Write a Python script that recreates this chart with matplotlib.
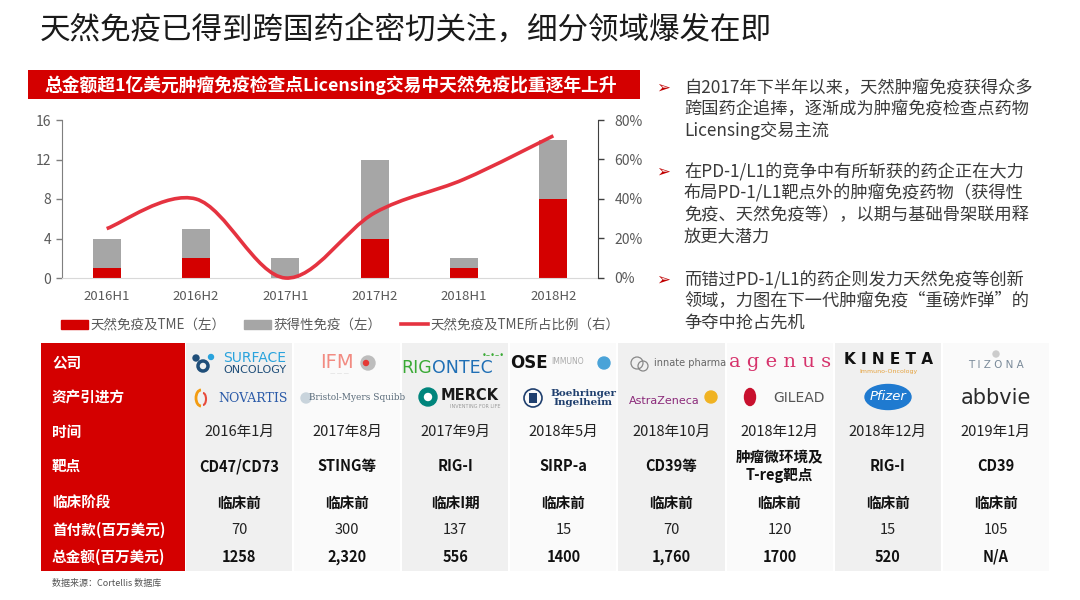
import numpy as np
import matplotlib
matplotlib.use("Agg")
import matplotlib.pyplot as plt
from matplotlib.patches import Rectangle, Circle, Ellipse, Arc, Patch, PathPatch
from matplotlib.lines import Line2D
from matplotlib.path import Path

plt.rcParams['font.family'] = ['Noto Sans CJK SC', 'DejaVu Sans']

# chart data
periods = ['2016H1', '2016H2', '2017H1', '2017H2', '2018H1', '2018H2']
innate = [1, 2, 0, 4, 1, 8]
acquired = [3, 3, 2, 8, 1, 6]
ratio = [0.25, 0.40, 0.0, 0.33, 0.50, 0.72]

# table data
row_labels = ['公司', '资产引进方', '时间', '靶点', '临床阶段', '首付款(百万美元)', '总金额(百万美元)']
dates = ['2016年1月', '2017年8月', '2017年9月', '2018年5月', '2018年10月', '2018年12月', '2018年12月', '2019年1月']
targets = ['CD47/CD73', 'STING等', 'RIG-I', 'SIRP-a', 'CD39等', '肿瘤微环境及\nT-reg靶点', 'RIG-I', 'CD39']
stages = ['临床前', '临床前', '临床I期', '临床前', '临床前', '临床前', '临床前', '临床前']
upfront = ['70', '300', '137', '15', '70', '120', '15', '105']
totals = ['1258', '2,320', '556', '1400', '1,760', '1700', '520', 'N/A']

bullets = [
    ['自2017年下半年以来，天然肿瘤免疫获得众多', '跨国药企追捧，逐渐成为肿瘤免疫检查点药物', 'Licensing交易主流'],
    ['在PD-1/L1的竞争中有所斩获的药企正在大力', '布局PD-1/L1靶点外的肿瘤免疫药物（获得性',
     '免疫、天然免疫等），以期与基础骨架联用释', '放更大潜力'],
    ['而错过PD-1/L1的药企则发力天然免疫等创新', '领域，力图在下一代肿瘤免疫“重磅炸弹”的', '争夺中抢占先机'],
]

RED = '#d40000'
GRAY = '#a6a6a6'
LINE = '#e53340'

W, H = 1080, 600
fig = plt.figure(figsize=(W / 100, H / 100), dpi=100)

# overlay in pixel coords
ov = fig.add_axes([0, 0, 1, 1])
ov.set_xlim(0, W)
ov.set_ylim(H, 0)
ov.axis('off')
ov.set_zorder(0)


def T(x, y, s, **kw):
    kw.setdefault('ha', 'center')
    kw.setdefault('va', 'center')
    return ov.text(x, y, s, **kw)


# title
T(40, 30, '天然免疫已得到跨国药企密切关注，细分领域爆发在即', ha='left', fontsize=22, color='#1a1a1a')

# red banner
ov.add_patch(Rectangle((28, 70), 612, 29, color=RED, lw=0))
T(331, 85, '总金额超1亿美元肿瘤免疫检查点Licensing交易中天然免疫比重逐年上升',
  fontsize=12.8, color='white', fontweight='bold')

# ---- chart ----
ax = fig.add_axes([62 / W, 1 - 278 / H, 536 / W, 158 / H])
ax.set_zorder(1)
ax.patch.set_alpha(0)
x = np.arange(len(periods))
bw = 0.31
ax.bar(x, innate, bw, color=RED, zorder=2)
ax.bar(x, acquired, bw, bottom=innate, color=GRAY, zorder=2)
ax.set_xlim(-0.5, len(periods) - 0.5)
ax.set_ylim(0, 16)
ax.set_yticks([0, 4, 8, 12, 16])
ax.set_xticks(x)
ax.set_xticklabels(periods)
ax.tick_params(axis='x', length=0, pad=9, labelsize=9.5, labelcolor='#595959')
ax.tick_params(axis='y', length=4, width=1, color='#7f7f7f', pad=4, labelsize=10, labelcolor='#595959')
ax.spines['top'].set_visible(False)
ax.spines['right'].set_visible(False)
ax.spines['left'].set_color('#7f7f7f')
ax.spines['bottom'].set_color('#d9d9d9')

ax2 = ax.twinx()
ax2.set_ylim(0, 0.8)
ax2.set_yticks([0, 0.2, 0.4, 0.6, 0.8])
ax2.set_yticklabels(['%d%%' % round(v * 100) for v in ax2.get_yticks()])
ax2.tick_params(axis='y', length=4, width=1, color='#404040', pad=8, labelsize=10, labelcolor='#595959')
for s in ['top', 'left', 'bottom']:
    ax2.spines[s].set_visible(False)
ax2.spines['right'].set_color('#404040')

# smoothed ratio line (catmull-rom -> bezier)
pts = np.column_stack([x, ratio]).astype(float)
n = len(pts)
verts = [tuple(pts[0])]
codes = [Path.MOVETO]
for i in range(n - 1):
    p0 = pts[max(i - 1, 0)]
    p1 = pts[i]
    p2 = pts[i + 1]
    p3 = pts[min(i + 2, n - 1)]
    c1 = p1 + (p2 - p0) / 6
    c2 = p2 - (p3 - p1) / 6
    verts += [tuple(c1), tuple(c2), tuple(p2)]
    codes += [Path.CURVE4] * 3
ax2.add_patch(PathPatch(Path(verts, codes), fill=False, ec=LINE, lw=2.6, clip_on=False, zorder=3))

handles = [Patch(color=RED), Patch(color=GRAY), Line2D([0], [0], color=LINE, lw=2.6)]
labels = ['天然免疫及TME（左）', '获得性免疫（左）', '天然免疫及TME所占比例（右）']
leg = ax.legend(handles, labels, loc='center', bbox_to_anchor=(340 / W, 1 - 325 / H),
                bbox_transform=fig.transFigure, ncol=3, frameon=False, fontsize=9.7,
                handlelength=2.0, handleheight=0.6, handletextpad=0.2, columnspacing=1.4)
for t in leg.get_texts():
    t.set_color('#595959')

# ---- right bullets ----
by = [88, 172, 280]
for b, y0 in zip(bullets, by):
    T(663, y0, '➢', fontsize=12, color='#c00000', family=['DejaVu Sans'])
    for k, line in enumerate(b):
        T(684, y0 + k * 21.5, line, ha='left', fontsize=12.4, color='#3a3a3a')

# ---- table ----
top, bot = 343, 571
ov.add_patch(Rectangle((41, top), 144, bot - top, color=RED, lw=0))
col_l, col_w = 185, 108.1
for i in range(8):
    fc = '#f0f0f0' if i % 2 == 0 else '#fafafa'
    ov.add_patch(Rectangle((col_l + i * col_w + 1, top), col_w - 2, bot - top, color=fc, lw=0))

row_y = [363, 398, 432, 466, 503, 530, 557]
for lab, y in zip(row_labels, row_y):
    T(52, y, lab, ha='left', fontsize=10.5, color='white', fontweight='bold')

cx = [col_l + (i + 0.5) * col_w for i in range(8)]
for i in range(8):
    T(cx[i], row_y[2], dates[i], fontsize=10.5, color='#222222')
    T(cx[i], row_y[3], targets[i], fontsize=10.5, color='#111111', fontweight='bold', linespacing=1.1)
    T(cx[i], row_y[4], stages[i], fontsize=10.5, color='#111111', fontweight='bold')
    T(cx[i], row_y[5], upfront[i], fontsize=10.5, color='#222222')
    T(cx[i], row_y[6], totals[i], fontsize=10.5, color='#111111', fontweight='bold')

# logos (approximated as text / shapes)
r1, r2 = row_y[0], row_y[1]
# Surface Oncology / Novartis
ov.add_patch(Circle((203, r1 + 3), 5, fill=False, ec='#1f4e79', lw=2.5))
ov.add_patch(Circle((196, r1 - 5), 3, color='#1f4e79'))
ov.add_patch(Circle((211, r1 - 6), 2.5, color='#29a3dd'))
T(255, r1 - 5, 'SURFACE', fontsize=10, color='#29a3dd', family=['DejaVu Sans'])
T(255, r1 + 7, 'ONCOLOGY', fontsize=8, color='#1f4e79', family=['DejaVu Sans'])
ov.add_patch(Arc((201, r2), 10, 16, theta1=90, theta2=270, color='#f39c12', lw=2))
ov.add_patch(Arc((203, r2 + 1), 6, 12, theta1=270, theta2=90, color='#e74c3c', lw=1.5))
T(253, r2, 'NOVARTIS', fontsize=9, color='#2a5aa8', family=['DejaVu Serif'])
# IFM / BMS
T(337, r1, 'IFM', fontsize=14, color='#f28b82', family=['DejaVu Sans'])
ov.add_patch(Circle((368, r1), 7, color='#bdbdbd'))
ov.add_patch(Circle((366, r1), 2.5, color='#e53935'))
T(339, r1 + 11, '― ― ―', fontsize=4, color='#aaaaaa')
ov.add_patch(Circle((306, r2), 5, color='#c9d4dc'))
T(357, r2, 'Bristol-Myers Squibb', fontsize=6.4, color='#5a6b7a', family=['DejaVu Serif'])
# Rigontec / Merck
T(432, r1 + 5, 'RIG', fontsize=12.5, color='#3aaa35', ha='right', family=['DejaVu Sans'])
T(432, r1 + 5, 'ONTEC', fontsize=12.5, color='#1f6fb5', ha='left', family=['DejaVu Sans'])
T(493, r1 - 8, '•–•–•', fontsize=6, color='#3aaa35', family=['DejaVu Sans'])
ov.add_patch(Circle((428, r2 - 1), 9, color='#00857c'))
ov.add_patch(Circle((428, r2 - 1), 3.5, color='white'))
T(441, r2 - 2, 'MERCK', fontsize=10.5, color='#1a1a1a', ha='left', fontweight='bold', family=['DejaVu Sans'])
T(475, r2 + 8, 'INVENTING FOR LIFE', fontsize=3.5, color='#999999', family=['DejaVu Sans'])
# OSE / Boehringer
T(529, r1, 'OSE', fontsize=12, color='#111111', fontweight='bold', family=['DejaVu Sans'])
T(568, r1 - 2, 'IMMUNO', fontsize=5.5, color='#aaaaaa', family=['DejaVu Sans'])
ov.add_patch(Circle((604, r1), 6, color='#4aa3d8'))
ov.add_patch(Circle((533, r2), 9, fill=False, ec='#1f3f6e', lw=1.2))
ov.add_patch(Rectangle((529, r2 - 5), 8, 10, color='#1f3f6e', lw=0))
T(583, r2, 'Boehringer\nIngelheim', fontsize=7.5, color='#1f3f6e', fontweight='bold',
  family=['DejaVu Serif'], linespacing=0.95)
# Innate / AstraZeneca
ov.add_patch(Circle((637, r1), 6, fill=False, ec='#888888', lw=0.9))
ov.add_patch(Circle((643, r1 + 3), 5, fill=False, ec='#888888', lw=0.9))
T(690, r1, 'innate pharma', fontsize=7, color='#666666', family=['DejaVu Sans'])
T(664, r2 + 3, 'AstraZeneca', fontsize=8, color='#8b2a7a', family=['DejaVu Sans'])
ov.add_patch(Circle((711, r2 - 1), 6, color='#f0b323'))
# Agenus / Gilead
T(780, r1 - 1, 'a g e n u s', fontsize=14, color='#d6336c', family=['DejaVu Serif'])
ov.add_patch(Ellipse((750, r2 - 1), 11, 17, color='#c8102e'))
T(799, r2, 'GILEAD', fontsize=10, color='#555555', family=['DejaVu Sans'])
# Kineta / Pfizer
T(888, r1 - 3, 'K I N E T A', fontsize=11, color='#111111', fontweight='bold', family=['DejaVu Sans'])
T(888, r1 + 8, 'Immuno-Oncology', fontsize=4.5, color='#e6a23c', family=['DejaVu Sans'])
ov.add_patch(Ellipse((888, r2 - 1), 46, 25, color='#1f7ad0'))
T(888, r2 - 1, 'Pfizer', fontsize=9.5, color='white', style='italic', family=['DejaVu Sans'])
# Tizona / Abbvie
ov.add_patch(Circle((996, r1 - 9), 3, color='#cccccc'))
T(996, r1 + 2, 'T I Z O N A', fontsize=7.5, color='#7a8a99', family=['DejaVu Sans'])
T(996, r2, 'abbvie', fontsize=15, color='#2b2b2b', family=['DejaVu Sans'])

# source
T(52, 583, '数据来源：Cortellis 数据库', ha='left', fontsize=6.5, color='#555555')

fig.savefig('out.png', dpi=100)
